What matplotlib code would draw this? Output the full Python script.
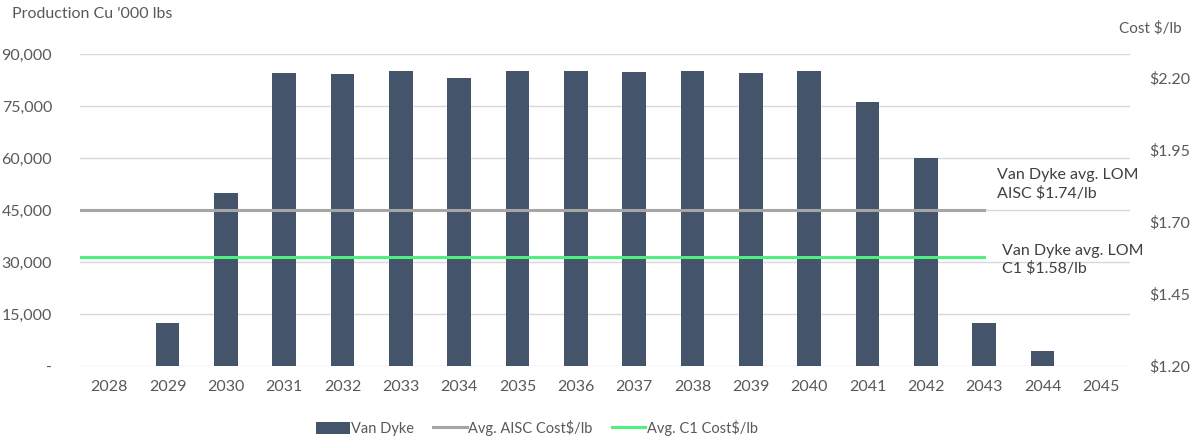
"""
Van Dyke copper production profile with average LOM cost lines
"""

import matplotlib.pyplot as plt
from matplotlib.ticker import FuncFormatter

plt.rcParams['font.family'] = ['Lato', 'DejaVu Sans']

# Data
years = [2028, 2029, 2030, 2031, 2032, 2033, 2034, 2035, 2036,
         2037, 2038, 2039, 2040, 2041, 2042, 2043, 2044, 2045]
production = [0, 12400, 50000, 84500, 84200, 85100, 83000, 85100, 85100,
              84800, 85100, 84500, 85100, 76100, 60000, 12400, 4300, 0]
aisc_cost = 1.74
c1_cost = 1.58
cost_line_span = [-0.5, 15]   # category positions the cost lines run across

left_ticks = [0, 15000, 30000, 45000, 60000, 75000, 90000]
right_ticks = [1.20, 1.45, 1.70, 1.95, 2.20]

bar_color = '#44546A'
aisc_color = '#A5A5A5'
c1_color = '#4FEF80'
text_color = '#595959'

fig = plt.figure(figsize=(12.02, 4.40), dpi=100)
ax = fig.add_axes([80 / 1202, 1 - 366 / 440, 1050 / 1202, 312 / 440])
ax2 = ax.twinx()

x = list(range(len(years)))
bars = ax.bar(x, production, width=0.41, color=bar_color, label='Van Dyke', zorder=2)

ax.set_xlim(-0.5, len(years) - 0.5)
ax.set_ylim(0, 90000)
ax.set_yticks(left_ticks)
ax.yaxis.set_major_formatter(FuncFormatter(lambda v, p: '-' if v == 0 else f'{v:,.0f}'))
ax.set_xticks(x)
ax.set_xticklabels([str(y) for y in years])
ax.grid(axis='y', color='#D9D9D9', linewidth=1, zorder=0)
ax.set_axisbelow(True)

# right axis: cost lines
l1, = ax2.plot(cost_line_span, [aisc_cost, aisc_cost], color=aisc_color, linewidth=2.2,
               label='Avg. AISC Cost$/lb', zorder=3)
l2, = ax2.plot(cost_line_span, [c1_cost, c1_cost], color=c1_color, linewidth=2.2,
               label='Avg. C1 Cost$/lb', zorder=3)
ax2.set_ylim(1.20, 1.20 + 312 / 288)
ax2.set_yticks(right_ticks)
ax2.yaxis.set_major_formatter(FuncFormatter(lambda v, p: f'${v:.2f}'))

for a in (ax, ax2):
    for s in a.spines.values():
        s.set_visible(False)
    a.tick_params(length=0, labelsize=11.5, colors=text_color)
ax.tick_params(axis='y', pad=20)
ax.tick_params(axis='x', pad=10)
ax2.tick_params(axis='y', pad=14)
ax2.set_zorder(ax.get_zorder() + 1)

fig.text(12 / 1202, 1 - 14 / 440, "Production Cu '000 lbs", fontsize=11.5, color=text_color,
         va='center', ha='left')
fig.text(1182 / 1202, 1 - 28 / 440, "Cost $/lb", fontsize=11, color=text_color,
         va='center', ha='right')

ax2.text(15.22, 1.74 + 0.035, 'Van Dyke avg. LOM\nAISC $1.74/lb', fontsize=11.5,
         color='#404040', va='bottom', ha='left', linespacing=1.3)
ax2.text(15.3, 1.58 + 0.045, 'Van Dyke avg. LOM\nC1 $1.58/lb', fontsize=11.5,
         color='#404040', va='top', ha='left', linespacing=1.3)

fig.legend(handles=[bars, l1, l2], loc='center', bbox_to_anchor=(537 / 1202, 1 - 428 / 440),
           ncol=3, frameon=False, fontsize=10.5, handlelength=2.3, handleheight=0.9,
           handletextpad=0.1, columnspacing=1.3, labelcolor=text_color)

fig.savefig('out.png', dpi=100)
